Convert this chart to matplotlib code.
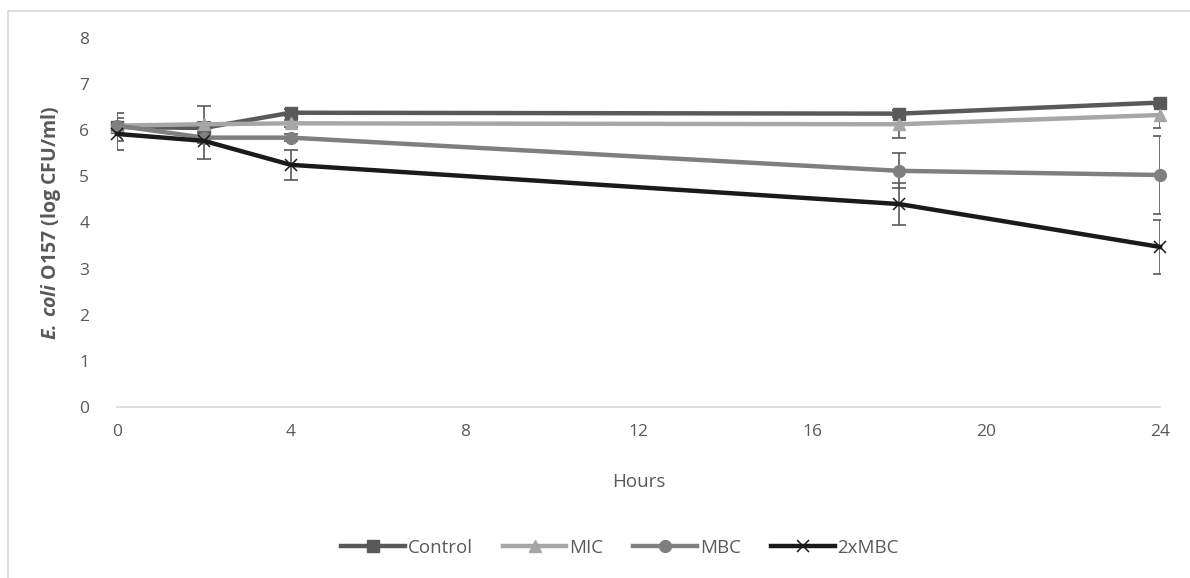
import matplotlib
matplotlib.use("Agg")
import matplotlib.pyplot as plt
from matplotlib.lines import Line2D

hours = [0, 2, 4, 18, 24]
series_names = ["Control", "MIC", "MBC", "2xMBC"]
control = [6.07, 6.05, 6.38, 6.36, 6.60]
mic = [6.10, 6.13, 6.15, 6.13, 6.33]
mbc = [6.10, 5.84, 5.84, 5.12, 5.03]
x2mbc = [5.92, 5.77, 5.25, 4.40, 3.47]
control_err = [0.30, 0.08, 0.08, 0.08, 0.08]
mic_err = [0.08, 0.40, 0.08, 0.30, 0.28]
mbc_err = [0.08, 0.08, 0.08, 0.38, 0.85]
x2mbc_err = [0.35, 0.40, 0.33, 0.45, 0.58]
x_ticks = [0, 4, 8, 12, 16, 20, 24]
y_ticks = [0, 1, 2, 3, 4, 5, 6, 7, 8]

plt.rcParams['font.family'] = ['Open Sans', 'DejaVu Sans']
plt.rcParams['mathtext.fontset'] = 'custom'
plt.rcParams['mathtext.bfit'] = 'Open Sans:italic:bold'

fig = plt.figure(figsize=(11.9, 5.78), dpi=100)
ax = fig.add_axes([117/1190, 1 - 407/578, (1160-117)/1190, (407-38)/578])

txt = '#595959'
styles = [
    (control, control_err, '#595959', 's', 8.5),
    (mic, mic_err, '#a6a6a6', '^', 8.5),
    (mbc, mbc_err, '#7f7f7f', 'o', 8.5),
    (x2mbc, x2mbc_err, '#1a1a1a', 'x', 8),
]
handles = []
for (vals, err, col, mk, ms), name in zip(styles, series_names):
    ax.errorbar(hours, vals, yerr=err, fmt='none', ecolor='#595959',
                elinewidth=1.2, capsize=5, capthick=1.2, zorder=2)
    ax.plot(hours, vals, color=col, lw=3.2, marker=mk, ms=ms,
            mew=1.1 if mk == 'x' else 1, mfc=col, mec=col, clip_on=False, zorder=3)
    handles.append(Line2D([], [], color=col, lw=3.2, marker=mk, ms=ms,
                          mew=1.1 if mk == 'x' else 1, mfc=col, mec=col, label=name))

ax.set_xlim(0, 24)
ax.set_ylim(0, 8)
ax.set_xticks(x_ticks)
ax.set_yticks(y_ticks)
ax.tick_params(axis='both', length=0, labelsize=12.5, labelcolor=txt, pad=12)
ax.tick_params(axis='y', pad=20)
for s in ['top', 'right', 'left']:
    ax.spines[s].set_visible(False)
ax.spines['bottom'].set_color('#d9d9d9')
ax.spines['bottom'].set_linewidth(1.2)

ax.set_xlabel('Hours', fontsize=13.5, color=txt, labelpad=24)
ax.set_ylabel(r'$\mathbfit{E.\,coli}$ O157 (log CFU/ml)', fontsize=14,
              color=txt, fontweight='bold', labelpad=12)

leg = fig.legend(handles=handles, loc='center', bbox_to_anchor=(620/1190, 1 - 548/578),
                 ncol=4, frameon=False, fontsize=13.5, handlelength=3.4,
                 handletextpad=0.15, columnspacing=1.6)
for t in leg.get_texts():
    t.set_color(txt)

# outer chart border (top and left visible)
fig.add_artist(Line2D([8/1190, 1], [1 - 11/578, 1 - 11/578], color='#d9d9d9', lw=1.2,
                      transform=fig.transFigure))
fig.add_artist(Line2D([8/1190, 8/1190], [0, 1 - 11/578], color='#d9d9d9', lw=1.2,
                      transform=fig.transFigure))

fig.savefig('out.png', dpi=100)
